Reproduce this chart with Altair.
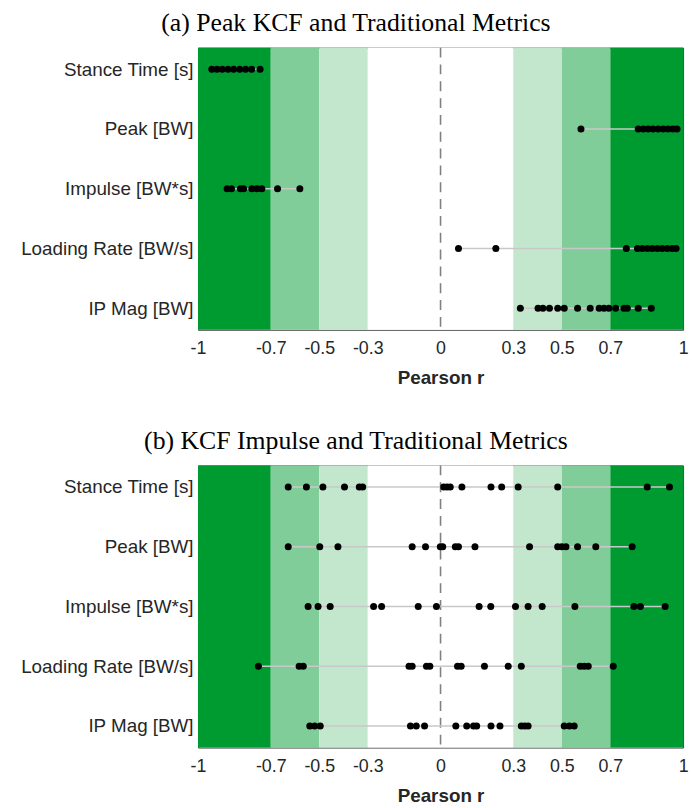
import altair as alt
import pandas as pd

metrics = ["Stance Time [s]", "Peak [BW]", "Impulse [BW*s]", "Loading Rate [BW/s]", "IP Mag [BW]"]

# Panel (a): Peak KCF vs traditional metrics (Pearson r per subject)
a_stance = [-0.943, -0.922, -0.900, -0.876, -0.853, -0.828, -0.804, -0.779, -0.744]
a_peak = [0.579, 0.815, 0.836, 0.856, 0.876, 0.897, 0.918, 0.938, 0.958, 0.975]
a_impulse = [-0.880, -0.862, -0.825, -0.812, -0.778, -0.757, -0.737, -0.672, -0.580]
a_loading = [0.074, 0.228, 0.766, 0.812, 0.832, 0.853, 0.873, 0.894, 0.914, 0.935, 0.955, 0.971]
a_ipmag = [0.329, 0.402, 0.422, 0.449, 0.483, 0.510, 0.565, 0.617, 0.654, 0.674, 0.694, 0.722,
           0.756, 0.770, 0.815, 0.869]

# Panel (b): KCF impulse vs traditional metrics
b_stance = [-0.628, -0.553, -0.485, -0.396, -0.335, -0.321, 0.013, 0.027, 0.040, 0.088, 0.208,
            0.252, 0.320, 0.483, 0.852, 0.944]
b_peak = [-0.628, -0.498, -0.423, -0.117, -0.062, -0.001, 0.009, 0.061, 0.074, 0.142, 0.367,
          0.483, 0.500, 0.517, 0.565, 0.640, 0.790]
b_impulse = [-0.546, -0.505, -0.455, -0.276, -0.243, -0.092, -0.017, 0.159, 0.207, 0.309, 0.361,
             0.419, 0.554, 0.797, 0.824, 0.926]
b_loading = [-0.751, -0.583, -0.566, -0.130, -0.117, -0.058, -0.044, 0.070, 0.085, 0.181, 0.279,
             0.333, 0.576, 0.592, 0.609, 0.712]
b_ipmag = [-0.539, -0.519, -0.496, -0.124, -0.100, -0.066, 0.063, 0.108, 0.136, 0.149, 0.208,
           0.245, 0.333, 0.347, 0.361, 0.510, 0.531, 0.551]

# correlation strength bands
band_lo = [-1.0, -0.7, -0.5, -0.3, 0.3, 0.5, 0.7]
band_hi = [-0.7, -0.5, -0.3, 0.3, 0.5, 0.7, 1.0]
band_cls = ["strong", "moderate", "weak", "none", "weak", "moderate", "strong"]
tick_values = [-1, -0.7, -0.5, -0.3, 0, 0.3, 0.5, 0.7, 1]

bands_df = pd.DataFrame({"lo": band_lo, "hi": band_hi, "cls": band_cls})
zero_df = pd.DataFrame({"x": [0.0]})


def make_df(series):
    rows = []
    for m, vals in zip(metrics, series):
        for v in vals:
            rows.append({"metric": m, "r": v})
    return pd.DataFrame(rows)


W, H = 490, 285
FONT = "Liberation Sans"

xscale = alt.Scale(domain=[-1, 1], nice=False, zero=False)
xaxis = alt.Axis(values=tick_values, labelExpr="toString(datum.value)", title="Pearson r",
                 ticks=False, domain=False, grid=False, labelFlush=False, labelOverlap=False,
                 labelPadding=10, titlePadding=11, labelFontSize=18)
yscale = alt.Scale(type="point", padding=0.36)
yaxis = alt.Axis(title=None, ticks=False, domain=False, grid=False, labelPadding=5,
                 minExtent=196, maxExtent=196, labelLimit=300, labelFontSize=19)


def panel(df, title):
    bands = alt.Chart(bands_df).mark_rect().encode(
        x=alt.X("lo:Q", scale=xscale, axis=xaxis),
        x2="hi:Q",
        color=alt.Color("cls:N", scale=alt.Scale(domain=["strong", "moderate", "weak", "none"],
                                                   range=["#009b30", "#80cd99", "#c3e7cd", "#ffffff"]),
                        legend=None),
    )
    zero = alt.Chart(zero_df).mark_rule(color="#808080", strokeDash=[10, 7], strokeWidth=1.6).encode(
        x=alt.X("x:Q", scale=xscale, axis=xaxis)
    )
    y_enc = alt.Y("metric:N", sort=metrics, scale=yscale, axis=yaxis)
    ranges = alt.Chart(df).mark_rule(color="#c8c8c8", strokeWidth=1.5).encode(
        x=alt.X("min(r):Q", scale=xscale, axis=xaxis),
        x2="max(r):Q",
        y=y_enc,
    )
    pts = alt.Chart(df).mark_circle(color="black", opacity=1, size=50).encode(
        x=alt.X("r:Q", scale=xscale, axis=xaxis),
        y=y_enc,
    )
    return alt.layer(bands, zero, ranges, pts).properties(
        width=W, height=H,
        title=alt.TitleParams(title, font="Liberation Serif", fontSize=26, fontWeight="normal",
                              color="black", anchor="middle", frame="bounds", offset=11, dx=10),
    )


pa = panel(make_df([a_stance, a_peak, a_impulse, a_loading, a_ipmag]),
           "(a) Peak KCF and Traditional Metrics")
pb = panel(make_df([b_stance, b_peak, b_impulse, b_loading, b_ipmag]),
           "(b) KCF Impulse and Traditional Metrics")

chart = alt.vconcat(pa, pb, spacing=39).configure_view(
    stroke="#404040", strokeWidth=1
).configure_axis(
    labelFont=FONT, labelColor="#262626",
    titleFont=FONT, titleFontSize=19, titleColor="#262626", titleFontWeight="bold",
).properties(background="white", padding={"left": 3, "top": 5, "right": 3, "bottom": 5})

chart.save("out.html", embed_options={"renderer": "svg", "actions": False})
